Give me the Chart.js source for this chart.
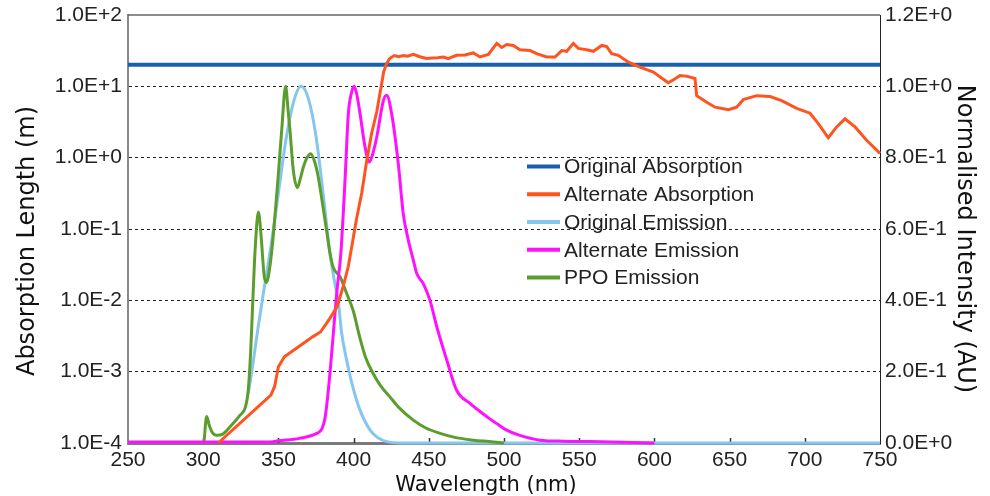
<!DOCTYPE html>
<html><head><meta charset="utf-8">
<script src="https://cdn.jsdelivr.net/npm/chart.js@4"></script>
<style>html,body{margin:0;padding:0;background:#fff;overflow:hidden}</style>
</head><body>
<canvas id="c" width="990" height="496"></canvas>
<script>
// ---------- data ----------
const seriesNames = ['Original Absorption','Alternate Absorption','Original Emission','Alternate Emission','PPO Emission'];
const xTicks = [250,300,350,400,450,500,550,600,650,700,750];
const leftTicks = [1e-4,1e-3,1e-2,1e-1,1,10,100];
const rightTicks = [0,0.2,0.4,0.6,0.8,1.0,1.2];
const xTitle = 'Wavelength (nm)';
const leftTitle = 'Absorption Length (m)';
const rightTitle = 'Normalised Intensity (AU)';

const origAbsWl  = [250, 750];
const origAbsVal = [20, 20];

const altAbsWl  = [310,345,347.5,350,354,362,373,378,384,389,393,396.5,400,402,405.4,408.7,412,415.4,418.7,420,422,424,427,430,433,436,439.7,444,448.6,452,456,459.7,463,466,468.5,474,479.6,484,489.6,495.2,498.5,501.8,506.2,510.6,517.3,521.7,528.4,533.9,538.4,541.7,546.1,549.4,555,559.4,565,568.3,571.6,576,582.7,590.4,599.3,605,609.2,613,617,621.9,627,628.1,634.8,640.3,649.2,654.7,659.1,668,676.9,684.6,694.6,703.5,709,715.6,721.2,726.7,733.4,741.1,750];
const altAbsVal = [1.0e-4,4.7e-4,6.2e-4,1.17e-3,1.62e-3,2.13e-3,3.1e-3,3.6e-3,5.5e-3,8.1e-3,0.0155,0.03,0.08,0.14,0.32,0.9,2.2,4.4,11,16,21,24.5,27,26,27,26.5,28,26,24.5,25,25.2,25.8,24.5,26,27.2,27.5,29.4,25.8,28,40,35,38.6,37.4,32.6,31.7,28.7,25.8,25.8,31.7,31,40,34,32.6,31,37.4,36,28.7,27.2,21.8,18.6,15.9,13,11.2,12.5,14.2,13.8,12.9,7.4,6.0,5.1,4.7,5.1,6.5,7.4,7.2,6.3,4.9,4.2,3.0,1.9,2.7,3.5,2.7,1.75,1.15];

const origEmWl  = [330,333,336,340,345,350,355,360,365,370,375,380,384,387,390,392,395,399,404,411,416,422,430,750];
const origEmVal = [0.14,0.22,0.31,0.42,0.55,0.70,0.85,0.955,1.0,0.965,0.86,0.69,0.54,0.46,0.39,0.31,0.24,0.165,0.095,0.036,0.015,0.004,0,0];

const altEmWl  = [250,300,345,350,364,375.5,379,381,383,385,386.5,389,391.5,394.3,396.5,398.5,400.3,402,404.3,407.6,410.5,413,415.4,419.8,422,425.3,429.7,433,436.4,439.7,442,446.3,450.8,455.3,462,468.5,477.4,488.5,495,501.8,510,524,540,557,600];
const altEmVal = [0.003,0.003,0.003,0.006,0.013,0.027,0.04,0.07,0.139,0.23,0.307,0.43,0.53,0.737,0.923,0.98,1.0,0.98,0.923,0.83,0.788,0.815,0.858,0.96,0.975,0.923,0.784,0.643,0.569,0.513,0.475,0.447,0.40,0.326,0.232,0.148,0.111,0.074,0.055,0.036,0.022,0.008,0.005,0.004,0];

const ppoWl  = [300.5,302.3,304,306,309,313,318,324.5,328,330,331.6,333,334.5,336.7,338.5,340.5,342,344.5,347,350,352.2,354.8,356.5,357.7,359.9,362.6,364.5,366.6,369,371.5,374,376.5,379,382,384,386.3,391,395.4,399.8,404,408,413,418,424,430,439.7,448,457.5,468,479.6,490,500];
const ppoVal = [0,0.074,0.05,0.03,0.022,0.025,0.046,0.078,0.10,0.15,0.26,0.40,0.54,0.648,0.58,0.47,0.45,0.50,0.60,0.755,0.877,1.0,0.93,0.877,0.765,0.716,0.74,0.774,0.80,0.811,0.79,0.746,0.68,0.597,0.54,0.494,0.466,0.419,0.37,0.298,0.24,0.195,0.16,0.13,0.10,0.064,0.042,0.027,0.015,0.008,0.004,0];

// ---------- helpers ----------
const pts = (xs, ys) => xs.map((x, i) => ({x: x, y: ys[i]}));
function sci(v) {
  if (Math.abs(v) < 1e-12) return '0.0E+0';
  let e = Math.floor(Math.log10(Math.abs(v)) + 1e-9);
  let m = v / Math.pow(10, e);
  if (m >= 9.95) { m /= 10; e++; }
  return m.toFixed(1) + 'E' + (e >= 0 ? '+' : '-') + Math.abs(e);
}
const TICK_FONT = {family: 'Liberation Sans', size: 21};
const TITLE_FAMILY = 'DejaVu Sans';

const colors = ['#1a5fad', '#ff5420', '#86c6ee', '#ff10ff', '#5c9e2e'];

const decorPlugin = {
  id: 'decor',
  beforeDatasetsDraw(chart) {
    const {ctx, chartArea: a} = chart;
    const xs = chart.scales.x;
    ctx.save();
    // inward tick marks on the x axis
    ctx.strokeStyle = '#333';
    ctx.lineWidth = 1.5;
    xTicks.forEach(t => {
      if (t === 250 || t === 750) return;
      const px = Math.round(xs.getPixelForValue(t)) + 0.5;
      ctx.beginPath(); ctx.moveTo(px, a.bottom); ctx.lineTo(px, a.bottom - 5); ctx.stroke();
    });
    // top frame line
    ctx.strokeStyle = '#666';
    ctx.lineWidth = 1.5;
    ctx.beginPath(); ctx.moveTo(a.left, a.top); ctx.lineTo(a.right, a.top); ctx.stroke();
    ctx.restore();
  },
  afterDraw(chart) {
    const {ctx} = chart;
    ctx.save();
    // legend
    ctx.font = '21px "Liberation Sans"';
    ctx.textBaseline = 'middle';
    ctx.textAlign = 'left';
    chart.data.datasets.forEach((ds, i) => {
      const y = 166.5 + i * 27.75;
      ctx.strokeStyle = ds.borderColor;
      ctx.lineWidth = 4;
      ctx.beginPath(); ctx.moveTo(527, y); ctx.lineTo(560, y); ctx.stroke();
      ctx.fillStyle = '#222';
      ctx.fillText(ds.label, 564, y + 1);
    });
    // axis titles
    ctx.fillStyle = '#111';
    ctx.textAlign = 'center';
    ctx.textBaseline = 'alphabetic';
    ctx.font = '21px "' + TITLE_FAMILY + '"';
    ctx.fillText(xTitle, 486, 491);
    ctx.font = '24px "' + TITLE_FAMILY + '"';
    ctx.save(); ctx.translate(33.5, 241); ctx.rotate(-Math.PI / 2); ctx.fillText(leftTitle, 0, 0); ctx.restore();
    ctx.save(); ctx.translate(958, 239); ctx.rotate(Math.PI / 2); ctx.fillText(rightTitle, 0, 0); ctx.restore();
    ctx.restore();
  }
};

const base = {pointRadius: 0, pointHoverRadius: 0, fill: false, clip: 4};
const datasets = [
  Object.assign({}, base, {label: seriesNames[0], data: pts(origAbsWl, origAbsVal), yAxisID: 'y',  borderColor: colors[0], borderWidth: 4, order: 5}),
  Object.assign({}, base, {label: seriesNames[1], data: pts(altAbsWl, altAbsVal),   yAxisID: 'y',  borderColor: colors[1], borderWidth: 3, order: 1, tension: 0}),
  Object.assign({}, base, {label: seriesNames[2], data: pts(origEmWl, origEmVal),   yAxisID: 'y1', borderColor: colors[2], borderWidth: 3, order: 4, cubicInterpolationMode: 'monotone'}),
  Object.assign({}, base, {label: seriesNames[3], data: pts(altEmWl, altEmVal),     yAxisID: 'y1', borderColor: colors[3], borderWidth: 3, order: 2, cubicInterpolationMode: 'monotone'}),
  Object.assign({}, base, {label: seriesNames[4], data: pts(ppoWl, ppoVal),         yAxisID: 'y1', borderColor: colors[4], borderWidth: 3, order: 3, cubicInterpolationMode: 'monotone'})
];

new Chart(document.getElementById('c'), {
  type: 'line',
  data: {datasets: datasets},
  options: {
    responsive: false,
    animation: false,
    devicePixelRatio: 1,
    layout: {padding: {top: 15, left: 0, right: 0, bottom: 0}},
    plugins: {legend: {display: false}, tooltip: {enabled: false}},
    scales: {
      x: {
        type: 'linear', position: 'bottom', min: 250, max: 750,
        afterBuildTicks: s => { s.ticks = xTicks.map(v => ({value: v})); },
        afterFit: s => { s.height = 53; s.paddingLeft = 0; s.paddingRight = 0; },
        grid: {display: false, drawTicks: false},
        border: {display: true, color: '#7a7a7a', width: 3},
        ticks: {font: TICK_FONT, color: '#222', padding: 5, maxRotation: 0, autoSkip: false, callback: v => String(v)}
      },
      y: {
        type: 'logarithmic', position: 'left', min: 1e-4, max: 100,
        afterBuildTicks: s => { s.ticks = leftTicks.map(v => ({value: v})); },
        afterFit: s => { s.width = 128; s.paddingTop = 0; s.paddingBottom = 0; },
        grid: {
          drawTicks: false, lineWidth: 1,
          color: c => (c.tick && (c.tick.value >= 99 || c.tick.value <= 1.1e-4)) ? 'rgba(0,0,0,0)' : '#222'
        },
        border: {display: true, color: '#888', width: 2, dash: [3, 3]},
        ticks: {font: TICK_FONT, color: '#222', padding: 6, autoSkip: false, callback: v => sci(v)}
      },
      y1: {
        type: 'linear', position: 'right', min: 0, max: 1.2,
        afterBuildTicks: s => { s.ticks = rightTicks.map(v => ({value: v})); },
        afterFit: s => { s.width = 110; s.paddingTop = 0; s.paddingBottom = 0; },
        grid: {drawOnChartArea: false, drawTicks: false},
        border: {display: true, color: '#222', width: 1},
        ticks: {font: TICK_FONT, color: '#222', padding: 5, autoSkip: false, callback: v => sci(v)}
      }
    }
  },
  plugins: [decorPlugin]
});
</script>
</body></html>
